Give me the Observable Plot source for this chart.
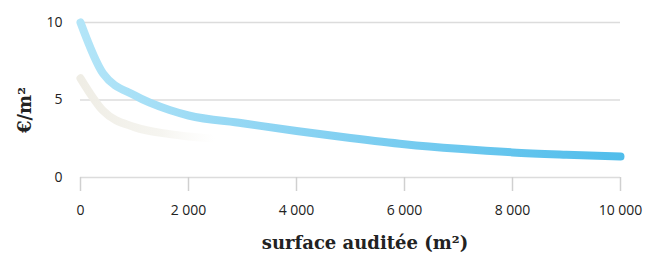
<!DOCTYPE html>
<html>
<head>
<meta charset="utf-8">
<script src="https://cdn.jsdelivr.net/npm/d3@7"></script>
<script src="https://cdn.jsdelivr.net/npm/@observablehq/plot@0.6"></script>
<style>
  html, body { margin: 0; padding: 0; background: #fff; }
  #chart { position: relative; width: 647px; height: 253px; }
</style>
</head>
<body>
<div id="chart"></div>
<script>
// Main curve (blue)
const blueX = [0, 420, 1000, 1650, 2000, 3000, 4000, 5000, 6000, 7000, 8000, 9000, 10000];
const blueY = [10, 6.7, 5.3, 4.35, 4.0, 3.5, 3.0, 2.55, 2.15, 1.85, 1.62, 1.47, 1.35];
// Faint secondary curve
const greyX = [0, 420, 1000, 1650, 2000, 2500];
const greyY = [6.4, 4.3, 3.25, 2.8, 2.65, 2.5];
const xTicks = [0, 2000, 4000, 6000, 8000, 10000];
const yTicks = [0, 5, 10];
const xTickLabels = ["0", "2 000", "4 000", "6 000", "8 000", "10 000"];

const blue = blueX.map((x, i) => ({x, y: blueY[i]}));
const grey = greyX.map((x, i) => ({x, y: greyY[i]}));

const plot = Plot.plot({
  width: 647,
  height: 253,
  marginLeft: 80,
  marginRight: 27,
  marginTop: 22,
  marginBottom: 76,
  style: {fontFamily: "'Open Sans', sans-serif", fontSize: "14px", color: "#222", background: "#fff"},
  x: {domain: [0, 10000], label: null},
  y: {domain: [0, 10], label: null},
  marks: [
    Plot.ruleY(yTicks, {stroke: "#dcdcdc", strokeWidth: 1.5}),
    Plot.ruleX(xTicks, {y1: 0, y2: 0, stroke: "#d0d0d0", strokeWidth: 1.5, insetBottom: -14}),
    Plot.axisY(yTicks, {tickSize: 0, tickPadding: 18, fontSize: 14, fill: "#222"}),
    Plot.axisX(xTicks, {tickSize: 0, tickPadding: 28, fontSize: 14, fill: "#222", tickFormat: (d, i) => xTickLabels[i]}),
    Plot.line(grey, {x: "x", y: "y", stroke: "#f2f0e8", strokeWidth: 8, curve: "monotone-x", className: "greyline"}),
    Plot.line(blue, {x: "x", y: "y", stroke: "#7fd0f2", strokeWidth: 8, curve: "monotone-x", className: "blueline"})
  ]
});

const ns = "http://www.w3.org/2000/svg";
const defs = document.createElementNS(ns, "defs");
defs.innerHTML = `
<linearGradient id="gBlue" x1="0" x2="1" y1="0" y2="0">
  <stop offset="0" stop-color="#b3e5f8"/>
  <stop offset="0.35" stop-color="#8fd5f3"/>
  <stop offset="1" stop-color="#50bdeb"/>
</linearGradient>
<linearGradient id="gGrey" x1="0" x2="1" y1="0" y2="0">
  <stop offset="0" stop-color="#efede5" stop-opacity="1"/>
  <stop offset="0.6" stop-color="#f3f2ec" stop-opacity="0.8"/>
  <stop offset="1" stop-color="#f8f7f3" stop-opacity="0"/>
</linearGradient>`;
plot.insertBefore(defs, plot.firstChild);
d3.select(plot).selectAll(".blueline path").attr("stroke", "url(#gBlue)").attr("stroke-linecap", "round");
d3.select(plot).selectAll(".greyline path").attr("stroke", "url(#gGrey)").attr("stroke-linecap", "round");
d3.select(plot).selectAll("line").attr("stroke-linecap", "butt");

const yl = document.createElementNS(ns, "text");
yl.setAttribute("transform", "translate(31,110) rotate(-90)");
yl.setAttribute("text-anchor", "middle");
yl.setAttribute("font-family", "'DejaVu Serif', serif");
yl.setAttribute("font-weight", "bold");
yl.setAttribute("font-size", "18");
yl.setAttribute("fill", "#222");
yl.textContent = "€/m²";
plot.appendChild(yl);

const xl = document.createElementNS(ns, "text");
xl.setAttribute("x", "365");
xl.setAttribute("y", "249");
xl.setAttribute("text-anchor", "middle");
xl.setAttribute("font-family", "'DejaVu Serif', serif");
xl.setAttribute("font-weight", "bold");
xl.setAttribute("font-size", "18");
xl.setAttribute("fill", "#222");
xl.textContent = "surface auditée (m²)";
plot.appendChild(xl);

document.getElementById("chart").appendChild(plot);
</script>
</body>
</html>
